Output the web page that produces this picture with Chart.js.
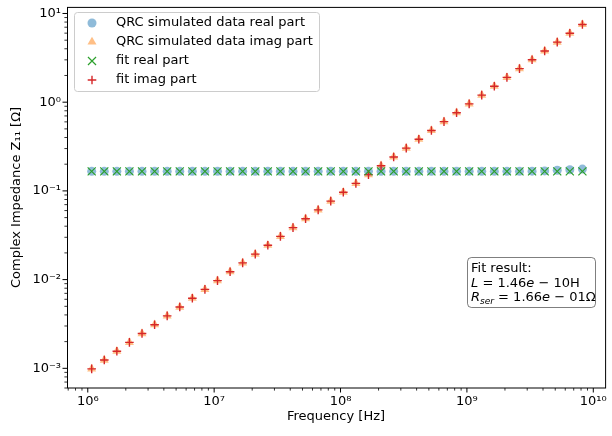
<!DOCTYPE html>
<html>
<head>
<meta charset="utf-8">
<script src="https://cdn.jsdelivr.net/npm/chart.js@4/dist/chart.umd.min.js"></script>
<style>
  html, body { margin: 0; padding: 0; background: #fff; }
  canvas { display: block; }
</style>
</head>
<body>
<canvas id="chart" width="612" height="436"></canvas>
<script>
// frequencies [Hz]
const freq = [
  1.074e6, 1.351e6, 1.699e6, 2.136e6, 2.687e6, 3.379e6, 4.250e6, 5.345e6, 6.722e6, 8.453e6,
  1.063e7, 1.337e7, 1.681e7, 2.115e7, 2.659e7, 3.345e7, 4.207e7, 5.290e7, 6.654e7, 8.368e7,
  1.052e8, 1.323e8, 1.664e8, 2.093e8, 2.633e8, 3.311e8, 4.165e8, 5.237e8, 6.587e8, 8.283e8,
  1.042e9, 1.310e9, 1.648e9, 2.073e9, 2.606e9, 3.278e9, 4.123e9, 5.185e9, 6.521e9, 8.202e9
];
// QRC simulated data
const realData = [
  0.166, 0.166, 0.166, 0.166, 0.166, 0.166, 0.166, 0.166, 0.166, 0.166,
  0.166, 0.166, 0.166, 0.166, 0.166, 0.166, 0.166, 0.166, 0.166, 0.166,
  0.166, 0.166, 0.166, 0.166, 0.166, 0.166, 0.166, 0.166, 0.166, 0.166,
  0.166, 0.166, 0.166, 0.166, 0.166, 0.167, 0.168, 0.171, 0.173, 0.176
];
const imagData = [
  9.85e-4, 1.239e-3, 1.559e-3, 1.959e-3, 2.465e-3, 3.100e-3, 3.899e-3, 4.903e-3, 6.166e-3, 7.754e-3,
  9.751e-3, 1.227e-2, 1.542e-2, 1.940e-2, 2.439e-2, 3.068e-2, 3.859e-2, 4.853e-2, 6.104e-2, 7.676e-2,
  9.651e-2, 0.1214, 0.1526, 0.1920, 0.2415, 0.3037, 0.3821, 0.4804, 0.6043, 0.7598,
  0.9559, 1.202, 1.512, 1.902, 2.391, 3.007, 3.782, 4.757, 5.982, 7.524
];
// fit
const realFit = [
  0.166, 0.166, 0.166, 0.166, 0.166, 0.166, 0.166, 0.166, 0.166, 0.166,
  0.166, 0.166, 0.166, 0.166, 0.166, 0.166, 0.166, 0.166, 0.166, 0.166,
  0.166, 0.166, 0.166, 0.166, 0.166, 0.166, 0.166, 0.166, 0.166, 0.166,
  0.166, 0.166, 0.166, 0.166, 0.166, 0.166, 0.166, 0.166, 0.166, 0.166
];
const imagFit = [
  9.85e-4, 1.239e-3, 1.559e-3, 1.959e-3, 2.465e-3, 3.100e-3, 3.899e-3, 4.903e-3, 6.166e-3, 7.754e-3,
  9.751e-3, 1.227e-2, 1.542e-2, 1.940e-2, 2.439e-2, 3.068e-2, 3.859e-2, 4.853e-2, 6.104e-2, 7.676e-2,
  9.651e-2, 0.1214, 0.1526, 0.1920, 0.2415, 0.3037, 0.3821, 0.4804, 0.6043, 0.7598,
  0.9559, 1.202, 1.512, 1.902, 2.391, 3.007, 3.782, 4.757, 5.982, 7.524
];
const seriesLabels = [
  'QRC simulated data real part',
  'QRC simulated data imag part',
  'fit real part',
  'fit imag part'
];
const xTickValues = [1e6, 1e7, 1e8, 1e9, 1e10];
const xTickLabels = ['10⁶', '10⁷', '10⁸', '10⁹', '10¹⁰'];
const yTickValues = [1e-3, 1e-2, 1e-1, 1e0, 1e1];
const yTickLabels = ['10⁻³', '10⁻²', '10⁻¹', '10⁰', '10¹'];

const FONT = "'DejaVu Sans'";
Chart.defaults.font.family = FONT;
Chart.defaults.font.size = 13;
Chart.defaults.color = '#000';

const pts = ys => freq.map((f, i) => ({ x: f, y: ys[i] }));

function drawMarker(ctx, ds, x, y) {
  const r = ds.pointRadius;
  ctx.save();
  ctx.fillStyle = ds.pointBackgroundColor || 'rgba(0,0,0,0)';
  ctx.strokeStyle = ds.pointBorderColor || 'rgba(0,0,0,0)';
  ctx.lineWidth = ds.pointBorderWidth || 0;
  ctx.beginPath();
  if (ds.pointStyle === 'circle') {
    ctx.arc(x, y, r, 0, Math.PI * 2);
    ctx.fill();
  } else if (ds.pointStyle === 'triangle') {
    for (let k = 0; k < 3; k++) {
      const a = k * 2 * Math.PI / 3;
      ctx.lineTo(x + Math.sin(a) * r, y - Math.cos(a) * r);
    }
    ctx.closePath();
    ctx.fill();
  } else if (ds.pointStyle === 'crossRot') {
    const d = r * Math.SQRT1_2;
    ctx.moveTo(x - d, y - d); ctx.lineTo(x + d, y + d);
    ctx.moveTo(x - d, y + d); ctx.lineTo(x + d, y - d);
    ctx.stroke();
  } else {
    ctx.moveTo(x - r, y); ctx.lineTo(x + r, y);
    ctx.moveTo(x, y - r); ctx.lineTo(x, y + r);
    ctx.stroke();
  }
  ctx.restore();
}

function roundRect(ctx, x, y, w, h, r) {
  ctx.beginPath();
  ctx.moveTo(x + r, y);
  ctx.arcTo(x + w, y, x + w, y + h, r);
  ctx.arcTo(x + w, y + h, x, y + h, r);
  ctx.arcTo(x, y + h, x, y, r);
  ctx.arcTo(x, y, x + w, y, r);
  ctx.closePath();
}

function drawRuns(ctx, x, y, runs) {
  runs.forEach(run => {
    ctx.font = run.font;
    ctx.fillText(run.text, x, y + (run.dy || 0));
    x += ctx.measureText(run.text).width;
  });
}

// axis frame, tick marks, legend and text box, drawn the matplotlib way
const decorPlugin = {
  id: 'decor',
  afterDraw(chart) {
    const { ctx, chartArea: a, scales: { x, y } } = chart;
    ctx.save();
    ctx.strokeStyle = '#000';

    const logTicks = (scale, cb) => {
      const lo = Math.floor(Math.log10(scale.min));
      const hi = Math.ceil(Math.log10(scale.max));
      for (let d = lo; d <= hi; d++) {
        for (let m = 1; m <= 9; m++) {
          const v = m * Math.pow(10, d);
          if (v >= scale.min && v <= scale.max) cb(scale.getPixelForValue(v), m === 1);
        }
      }
    };
    logTicks(x, (px, major) => {
      ctx.lineWidth = major ? 1 : 0.8;
      ctx.beginPath();
      ctx.moveTo(px, a.bottom);
      ctx.lineTo(px, a.bottom + (major ? 4.5 : 2.6));
      ctx.stroke();
    });
    logTicks(y, (py, major) => {
      ctx.lineWidth = major ? 1 : 0.8;
      ctx.beginPath();
      ctx.moveTo(a.left, py);
      ctx.lineTo(a.left - (major ? 4.5 : 2.6), py);
      ctx.stroke();
    });

    ctx.lineWidth = 1;
    ctx.strokeRect(a.left + 0.5, a.top + 0.5, a.right - a.left, a.bottom - a.top - 0.5);

    // legend
    roundRect(ctx, 74.5, 12.5, 245, 79, 3);
    ctx.fillStyle = 'rgba(255,255,255,0.8)';
    ctx.fill();
    ctx.strokeStyle = '#cccccc';
    ctx.stroke();
    ctx.textBaseline = 'middle';
    ctx.textAlign = 'left';
    chart.data.datasets.forEach((ds, i) => {
      const ly = 23 + i * 19;
      drawMarker(ctx, ds, 92, ly);
      ctx.fillStyle = '#000';
      ctx.font = '13px ' + FONT;
      ctx.fillText(ds.label, 116, ly);
    });

    // fit result box
    roundRect(ctx, 467.5, 257.5, 128, 50, 4);
    ctx.fillStyle = 'rgba(255,255,255,0.5)';
    ctx.fill();
    ctx.strokeStyle = 'rgba(0,0,0,0.5)';
    ctx.stroke();
    ctx.fillStyle = '#000';
    ctx.textBaseline = 'alphabetic';
    const rm = '13px ' + FONT, it = 'italic 13px ' + FONT, sub = 'italic 9px ' + FONT;
    drawRuns(ctx, 471, 272, [{ text: 'Fit result:', font: rm }]);
    drawRuns(ctx, 471, 286.5, [
      { text: 'L', font: it }, { text: ' = 1.46', font: rm },
      { text: 'e', font: it }, { text: ' − 10H', font: rm }
    ]);
    drawRuns(ctx, 471, 301, [
      { text: 'R', font: it }, { text: 'ser', font: sub, dy: 3 },
      { text: ' = 1.66', font: rm }, { text: 'e', font: it }, { text: ' − 01Ω', font: rm }
    ]);
    ctx.restore();
  }
};

new Chart(document.getElementById('chart'), {
  type: 'scatter',
  data: {
    datasets: [
      { label: seriesLabels[0], data: pts(realData), pointStyle: 'circle', pointRadius: 4.5,
        pointBackgroundColor: 'rgba(31,119,180,0.5)', pointBorderWidth: 0, order: 1 },
      { label: seriesLabels[1], data: pts(imagData), pointStyle: 'triangle', pointRadius: 5.2,
        pointBackgroundColor: 'rgba(255,127,14,0.5)', pointBorderWidth: 0, order: 1 },
      { label: seriesLabels[2], data: pts(realFit), pointStyle: 'crossRot', pointRadius: 5.7,
        pointBackgroundColor: 'rgba(0,0,0,0)', pointBorderColor: '#2ca02c', pointBorderWidth: 1.2, order: 0 },
      { label: seriesLabels[3], data: pts(imagFit), pointStyle: 'cross', pointRadius: 4.3,
        pointBackgroundColor: 'rgba(0,0,0,0)', pointBorderColor: '#d62728', pointBorderWidth: 1.4, order: 0 }
    ]
  },
  options: {
    responsive: false,
    animation: false,
    devicePixelRatio: 1,
    events: [],
    layout: { padding: { top: 5, right: 0, bottom: 0, left: 0 } },
    plugins: { legend: { display: false }, tooltip: { enabled: false } },
    scales: {
      x: {
        type: 'logarithmic',
        min: 6.85e5,
        max: 1.24e10,
        grid: { display: false, drawTicks: false },
        border: { display: false },
        afterBuildTicks: s => { s.ticks = xTickValues.map(v => ({ value: v })); },
        afterFit: s => { s.height = 48; s.paddingLeft = 0; s.paddingRight = 0; },
        ticks: { autoSkip: false, maxRotation: 0, padding: 6, callback: (v, i) => xTickLabels[i] },
        title: { display: true, text: 'Frequency [Hz]', padding: { top: 0, bottom: 12 } }
      },
      y: {
        type: 'logarithmic',
        min: 6.29e-4,
        max: 11.86,
        grid: { display: false, drawTicks: false },
        border: { display: false },
        afterBuildTicks: s => { s.ticks = yTickValues.map(v => ({ value: v })); },
        afterFit: s => { s.width = 67; s.paddingTop = 0; s.paddingBottom = 0; },
        ticks: { autoSkip: false, padding: 6, callback: (v, i) => yTickLabels[i] },
        title: { display: true, text: 'Complex Impedance Z₁₁ [Ω]', padding: { top: 9, bottom: 0 } }
      }
    }
  },
  plugins: [decorPlugin]
});
</script>
</body>
</html>
